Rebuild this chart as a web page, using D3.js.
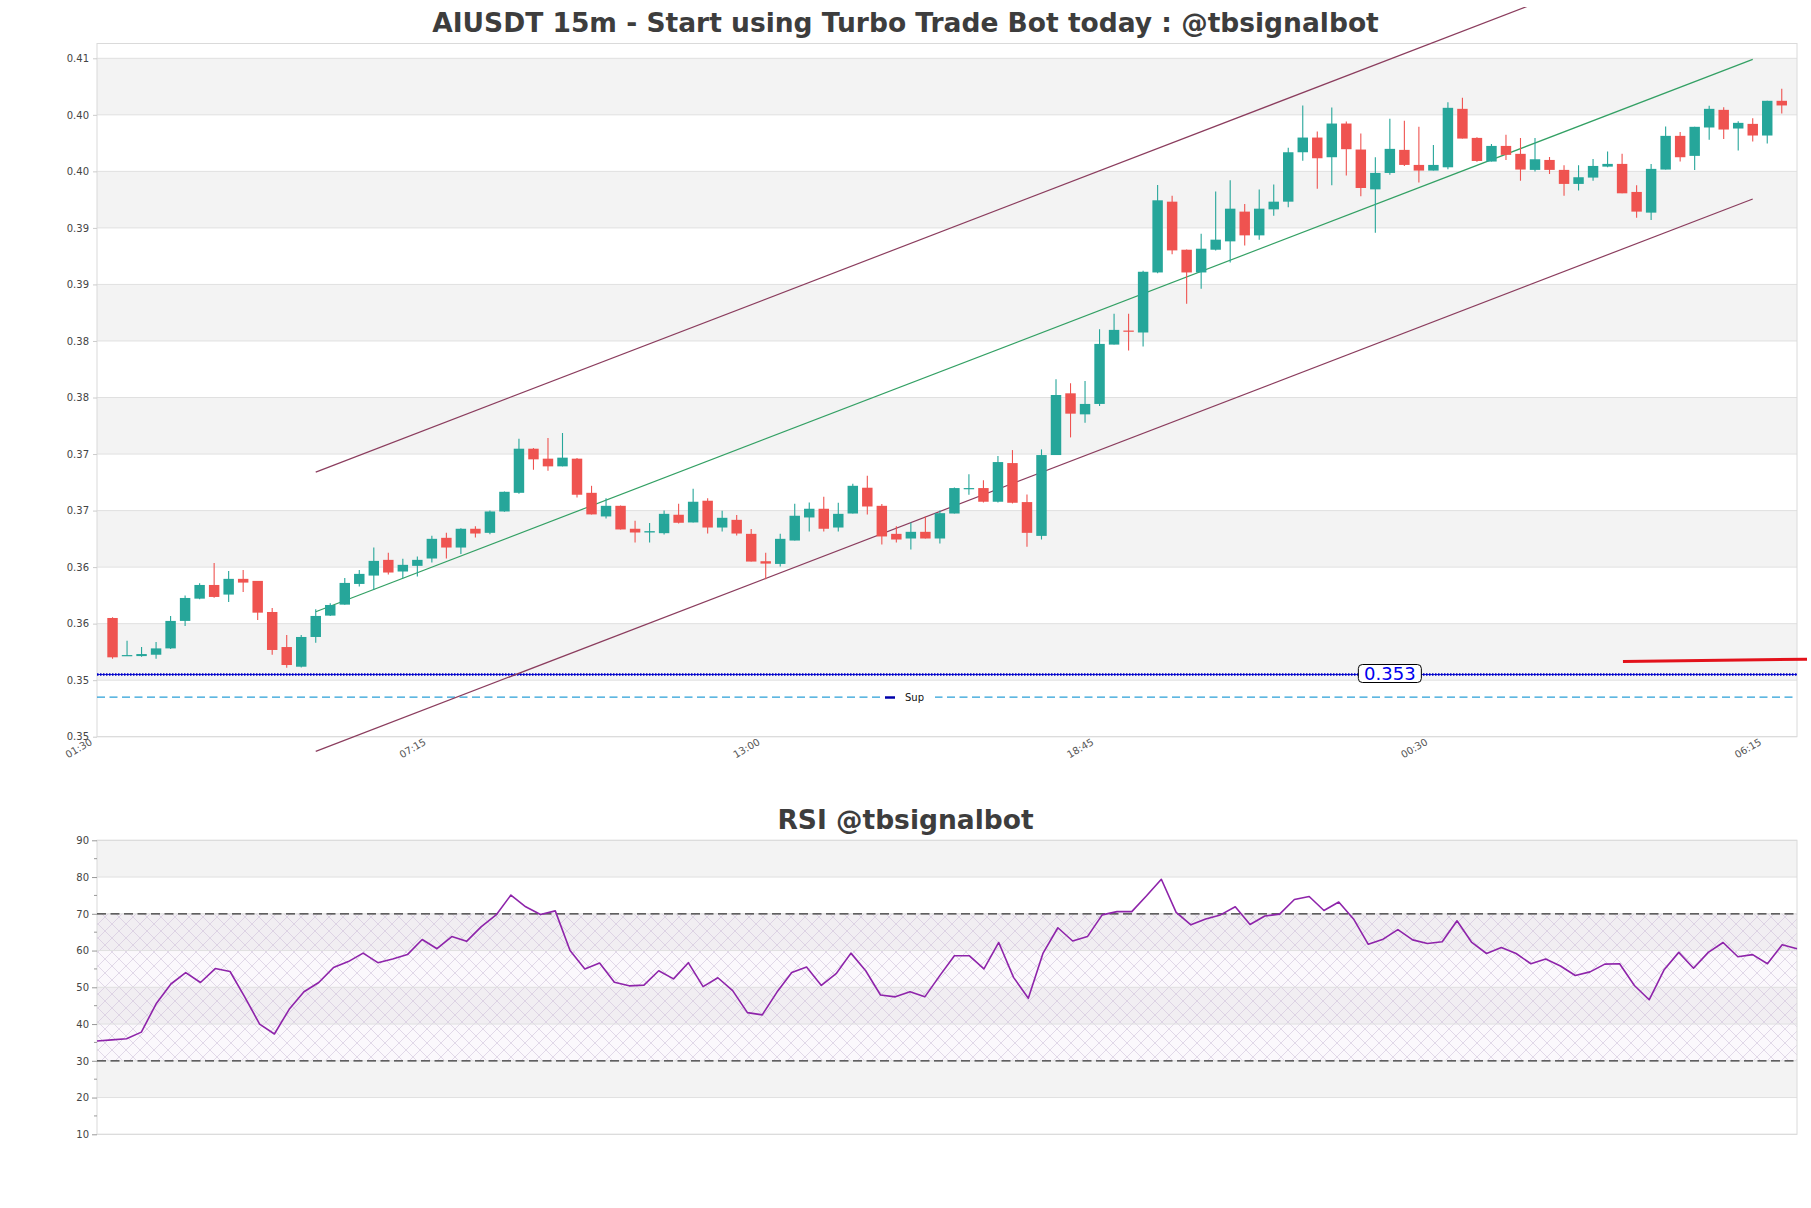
<!DOCTYPE html>
<html><head><meta charset="utf-8">
<script src="https://cdn.jsdelivr.net/npm/d3@7"></script>
<style>body{margin:0;background:#fff}svg{display:block}</style>
</head><body><svg id="c" width="1811" height="1208"></svg>
<script>
// ---------- DATA ----------
const opens=[0.35800,0.35468,0.35463,0.35475,0.35531,0.35774,0.35971,0.36092,0.36007,0.36146,0.36128,0.35853,0.35543,0.35369,0.35632,0.35821,0.35918,0.36101,0.36175,0.36314,0.36211,0.36261,0.36326,0.36509,0.36423,0.36589,0.36553,0.36742,0.36907,0.37297,0.37209,0.37141,0.37209,0.36907,0.36698,0.36792,0.36589,0.36556,0.36550,0.36713,0.36645,0.36837,0.36600,0.36668,0.36544,0.36302,0.36278,0.36485,0.36689,0.36766,0.36600,0.36724,0.36952,0.36792,0.36544,0.36503,0.36562,0.36503,0.36724,0.36940,0.36949,0.36828,0.37170,0.36825,0.36526,0.37241,0.37787,0.37601,0.37693,0.38218,0.38342,0.38325,0.38856,0.39482,0.39057,0.38856,0.39057,0.39131,0.39394,0.39184,0.39414,0.39482,0.39919,0.40049,0.39875,0.40173,0.39943,0.39591,0.39736,0.39940,0.39807,0.39757,0.39786,0.40303,0.40046,0.39837,0.39975,0.39905,0.39763,0.39851,0.39763,0.39639,0.39695,0.39792,0.39816,0.39568,0.39385,0.39766,0.40064,0.39887,0.40138,0.40294,0.40129,0.40170,0.40067,0.40374];
const highs=[0.35806,0.35599,0.35543,0.35587,0.35818,0.35998,0.36107,0.36287,0.36216,0.36225,0.36128,0.35889,0.35650,0.35650,0.35877,0.35930,0.36154,0.36225,0.36423,0.36376,0.36323,0.36343,0.36527,0.36553,0.36594,0.36612,0.36751,0.36919,0.37386,0.37303,0.37392,0.37436,0.37215,0.36969,0.36860,0.36795,0.36659,0.36639,0.36751,0.36810,0.36943,0.36860,0.36748,0.36710,0.36586,0.36376,0.36544,0.36810,0.36822,0.36872,0.36819,0.36987,0.37058,0.36807,0.36612,0.36645,0.36698,0.36750,0.36955,0.37072,0.37019,0.37232,0.37285,0.36893,0.37291,0.37911,0.37876,0.37896,0.38354,0.38490,0.38490,0.38870,0.39630,0.39535,0.39060,0.39199,0.39571,0.39671,0.39462,0.39589,0.39633,0.39958,0.40333,0.40102,0.40315,0.40191,0.40085,0.39875,0.40215,0.40197,0.40144,0.39984,0.40362,0.40401,0.40052,0.39993,0.40073,0.40045,0.40045,0.39878,0.39804,0.39804,0.39860,0.39925,0.39905,0.39627,0.39816,0.40147,0.40099,0.40144,0.40330,0.40318,0.40194,0.40220,0.40374,0.40480];
const lows=[0.35440,0.35463,0.35457,0.35440,0.35525,0.35729,0.35965,0.35980,0.35942,0.36030,0.35782,0.35475,0.35360,0.35363,0.35582,0.35818,0.35918,0.36078,0.36048,0.36184,0.36151,0.36166,0.36290,0.36326,0.36365,0.36512,0.36541,0.36739,0.36899,0.37111,0.37102,0.37141,0.36866,0.36716,0.36680,0.36583,0.36467,0.36467,0.36538,0.36636,0.36645,0.36547,0.36565,0.36529,0.36299,0.36143,0.36255,0.36485,0.36565,0.36565,0.36565,0.36724,0.36716,0.36450,0.36467,0.36405,0.36503,0.36459,0.36724,0.36890,0.36822,0.36822,0.36813,0.36429,0.36494,0.37241,0.37397,0.37527,0.37675,0.38218,0.38165,0.38201,0.38850,0.39016,0.38579,0.38711,0.39051,0.38945,0.39095,0.39146,0.39358,0.39432,0.39845,0.39597,0.39627,0.39713,0.39529,0.39208,0.39721,0.39798,0.39651,0.39757,0.39769,0.40040,0.39834,0.39837,0.39851,0.39668,0.39748,0.39727,0.39535,0.39580,0.39668,0.39786,0.39556,0.39340,0.39320,0.39766,0.39837,0.39763,0.40029,0.40037,0.39934,0.40014,0.39996,0.40262];
const closes=[0.35452,0.35472,0.35481,0.35531,0.35774,0.35977,0.36092,0.35986,0.36146,0.36113,0.35847,0.35517,0.35384,0.35632,0.35818,0.35915,0.36110,0.36190,0.36305,0.36202,0.36270,0.36314,0.36500,0.36423,0.36589,0.36547,0.36742,0.36916,0.37297,0.37203,0.37141,0.37218,0.36890,0.36716,0.36792,0.36583,0.36556,0.36568,0.36721,0.36642,0.36828,0.36600,0.36686,0.36547,0.36299,0.36281,0.36500,0.36704,0.36766,0.36589,0.36721,0.36969,0.36786,0.36521,0.36494,0.36562,0.36503,0.36727,0.36949,0.36949,0.36828,0.37179,0.36819,0.36553,0.37241,0.37772,0.37607,0.37693,0.38224,0.38348,0.38336,0.38862,0.39494,0.39051,0.38856,0.39066,0.39146,0.39420,0.39184,0.39420,0.39482,0.39919,0.40049,0.39866,0.40173,0.39946,0.39603,0.39736,0.39949,0.39807,0.39757,0.39807,0.40312,0.40040,0.39842,0.39975,0.39896,0.39766,0.39857,0.39763,0.39639,0.39698,0.39798,0.39816,0.39556,0.39394,0.39772,0.40064,0.39875,0.40144,0.40303,0.40120,0.40179,0.40067,0.40374,0.40333];
const rsiValues=[35.4,35.7,36.0,37.8,45.5,50.9,54.0,51.3,55.1,54.3,47.3,40.0,37.3,44.0,48.8,51.3,55.4,57.0,59.3,56.7,57.7,58.9,63.0,60.5,63.8,62.5,66.5,69.7,75.1,71.9,69.8,70.8,60.0,55.0,56.6,51.4,50.4,50.6,54.5,52.3,56.7,50.2,52.6,49.1,43.1,42.5,48.7,54.0,55.5,50.5,53.7,59.3,54.5,47.9,47.4,48.8,47.4,53.1,58.6,58.6,55.0,62.2,52.7,47.0,59.3,66.2,62.6,63.8,69.7,70.6,70.6,74.9,79.4,70.4,67.0,68.6,69.7,71.9,67.1,69.4,69.9,73.9,74.7,70.9,73.2,68.6,61.7,63.1,65.7,62.9,61.9,62.4,68.1,62.2,59.2,60.8,59.2,56.4,57.7,55.8,53.2,54.2,56.3,56.4,50.5,46.6,54.7,59.5,55.2,59.5,62.2,58.3,58.9,56.4,61.6,60.5];
const xTickIndex=[-1,22,45,68,91,114];
const xTickLabels=["01:30","07:15","13:00","18:45","00:30","06:15"];
const yTickValues=[0.3475,0.3525,0.3575,0.3625,0.3675,0.3725,0.3775,0.3825,0.3875,0.3925,0.3975,0.4025,0.4075];
const yTickLabels=["0.35","0.35","0.36","0.36","0.37","0.37","0.38","0.38","0.39","0.39","0.40","0.40","0.41"];
const rsiTicks=[10,20,30,40,50,60,70,80,90];
const rsiMinorTicks=[15,25,35,45,55,65,75,85];
const channelIdx=[14,113];
const channelMid=[0.35855,0.40741];
const channelHalfWidth=0.01235;
const supportLevel=0.353, supportLabelIdx=88;
const dashLevel=0.351;
const redIdx=[104.06,116.74], redVals=[0.35415,0.35435];
const titleText="AIUSDT 15m - Start using Turbo Trade Bot today : @tbsignalbot";
const rsiTitle="RSI @tbsignalbot";

// ---------- LAYOUT ----------
const W=1811,H=1208;
const M={l:97,r:1797,t:43.5,b:736.7};
const R={l:97,r:1797,t:840.3,b:1134.3};
const FONT="'DejaVu Sans', sans-serif";
const svg=d3.select("#c");
const defs=svg.append("defs");
defs.append("clipPath").attr("id","mclip").append("rect").attr("x",M.l).attr("y",M.t).attr("width",M.r-M.l).attr("height",M.b-M.t);
defs.append("clipPath").attr("id","topclip").append("rect").attr("x",0).attr("y",7).attr("width",W).attr("height",H);
const pat=defs.append("pattern").attr("id","hatch").attr("width",14).attr("height",14).attr("patternUnits","userSpaceOnUse");
pat.append("path").attr("d","M0,0L14,14M14,0L0,14M-7,7L7,21M7,-7L21,7M-7,7L7,-7M7,21L21,7").attr("stroke","#cdbfd8").attr("stroke-width",0.7).attr("fill","none");

const n=opens.length;
const x=d3.scaleLinear().domain([-1.07,116.05]).range([M.l,M.r]);
const y=d3.scaleLinear().domain([0.3475,0.4075]).range([M.b,58.3]);
const step=x(1)-x(0);

// title
svg.append("text").attr("x",W/2).attr("y",32).attr("text-anchor","middle").attr("font-family",FONT)
  .attr("font-weight","bold").attr("font-size",26.5).attr("fill","#3d3d3d").text(titleText);

// bands
const g=svg.append("g");
g.append("rect").attr("x",M.l).attr("y",M.t).attr("width",M.r-M.l).attr("height",M.b-M.t).attr("fill","#fff");
for(let k=yTickValues.length-1;k>0;k-=2){
  g.append("rect").attr("x",M.l).attr("width",M.r-M.l).attr("y",y(yTickValues[k])).attr("height",y(yTickValues[k-1])-y(yTickValues[k])).attr("fill","#f3f3f3");
}
g.selectAll(".gl").data(yTickValues).join("line").attr("x1",M.l).attr("x2",M.r).attr("y1",d=>y(d)).attr("y2",d=>y(d)).attr("stroke","#e0e0e0").attr("stroke-width",1);
g.append("rect").attr("x",M.l).attr("y",M.t).attr("width",M.r-M.l).attr("height",M.b-M.t).attr("fill","none").attr("stroke","#dadada");

// y axis
const yAx=svg.append("g").attr("transform",`translate(${M.l},0)`).call(d3.axisLeft(y).tickValues(yTickValues).tickFormat((d,i)=>yTickLabels[i]).tickSize(4).tickPadding(4));
yAx.select(".domain").remove();
yAx.selectAll("line").attr("stroke","#cccccc");
yAx.selectAll("text").attr("font-family",FONT).attr("font-size",10).attr("fill","#444");

// x axis labels
const xAx=svg.append("g");
xTickIndex.forEach((t,i)=>{
  xAx.append("text").attr("transform",`translate(${x(t)-5},744) rotate(-30)`).attr("text-anchor","end")
   .attr("font-family",FONT).attr("font-size",10).attr("fill","#555").text(xTickLabels[i]);
});

// support lines
svg.append("line").attr("x1",M.l).attr("x2",M.r).attr("y1",y(dashLevel)).attr("y2",y(dashLevel))
  .attr("stroke","#2ba0d8").attr("stroke-width",1.4).attr("stroke-dasharray","8,4.5");
svg.append("line").attr("x1",M.l).attr("x2",M.r).attr("y1",y(supportLevel)).attr("y2",y(supportLevel))
  .attr("stroke","#1a1ad6").attr("stroke-width",1);
svg.append("line").attr("x1",M.l).attr("x2",M.r).attr("y1",y(supportLevel)).attr("y2",y(supportLevel))
  .attr("stroke","#0000c8").attr("stroke-width",2.6).attr("stroke-dasharray","1.5,1.5");

// legend
const lg=svg.append("g");
lg.append("rect").attr("x",881).attr("y",690).attr("width",54).attr("height",14).attr("fill","#fff");
lg.append("line").attr("x1",885).attr("x2",895).attr("y1",697.5).attr("y2",697.5).attr("stroke","#0000aa").attr("stroke-width",2.5);
lg.append("text").attr("x",905).attr("y",701).attr("font-family",FONT).attr("font-size",10).attr("fill","#111").text("Sup");

// channel
const chg=svg.append("g").attr("clip-path","url(#topclip)");
const chLine=(off,col)=>chg.append("line").attr("x1",x(channelIdx[0])).attr("x2",x(channelIdx[1]))
  .attr("y1",y(channelMid[0]+off)).attr("y2",y(channelMid[1]+off)).attr("stroke",col).attr("stroke-width",1.2);
chLine(channelHalfWidth,"#8b3d5e");
chLine(-channelHalfWidth,"#8b3d5e");
chLine(0,"#33a064");

// candles
const cg=svg.append("g").attr("clip-path","url(#mclip)");
const idx=d3.range(n);
const col=i=>closes[i]>=opens[i]?"#26a69a":"#ef5350";
cg.selectAll(".wick").data(idx).join("line").attr("x1",i=>x(i)).attr("x2",i=>x(i))
  .attr("y1",i=>y(highs[i])).attr("y2",i=>y(lows[i])).attr("stroke",col).attr("stroke-width",1.1);
const bw=step*0.72;
cg.selectAll(".body").data(idx).join("rect").attr("x",i=>x(i)-bw/2).attr("width",bw)
  .attr("y",i=>y(Math.max(opens[i],closes[i])))
  .attr("height",i=>Math.max(1.2,Math.abs(y(opens[i])-y(closes[i])))).attr("fill",col);

// support label
const lx=x(supportLabelIdx);
svg.append("rect").attr("x",lx-31.5).attr("y",664.5).attr("width",63).attr("height",18).attr("rx",4)
  .attr("fill","#fff").attr("stroke","#000").attr("stroke-width",1);
svg.append("text").attr("x",lx).attr("y",680).attr("text-anchor","middle").attr("font-family",FONT)
  .attr("font-size",18).attr("fill","#0000ee").text(supportLevel.toFixed(3));

// red line
svg.append("line").attr("x1",x(redIdx[0])).attr("x2",x(redIdx[1])).attr("y1",y(redVals[0])).attr("y2",y(redVals[1]))
  .attr("stroke","#e3121b").attr("stroke-width",3);

// ---------- RSI ----------
svg.append("text").attr("x",W/2).attr("y",829).attr("text-anchor","middle").attr("font-family",FONT)
  .attr("font-weight","bold").attr("font-size",26.5).attr("fill","#3d3d3d").text(rsiTitle);
const rx=d3.scaleLinear().domain([0,n-1]).range([R.l,R.r]);
const ry=d3.scaleLinear().domain([10,90]).range([R.b,R.t]);
const rg=svg.append("g");
rg.append("rect").attr("x",R.l).attr("y",R.t).attr("width",R.r-R.l).attr("height",R.b-R.t).attr("fill","#fff");
[[80,90],[60,70],[40,50],[20,30]].forEach(b=>{
  rg.append("rect").attr("x",R.l).attr("width",R.r-R.l).attr("y",ry(b[1])).attr("height",ry(b[0])-ry(b[1])).attr("fill","#f3f3f3");
});
rg.append("rect").attr("x",R.l).attr("width",R.r-R.l).attr("y",ry(70)).attr("height",ry(30)-ry(70)).attr("fill","#e8d8f0").attr("opacity",0.18);
rg.append("rect").attr("x",R.l).attr("width",R.r-R.l).attr("y",ry(70)).attr("height",ry(30)-ry(70)).attr("fill","url(#hatch)").attr("opacity",0.8);
rg.selectAll(".rgl").data(rsiTicks).join("line").attr("x1",R.l).attr("x2",R.r).attr("y1",d=>ry(d)).attr("y2",d=>ry(d)).attr("stroke","#e0e0e0");
rg.append("rect").attr("x",R.l).attr("y",R.t).attr("width",R.r-R.l).attr("height",R.b-R.t).attr("fill","none").attr("stroke","#dadada");
[70,30].forEach(v=>rg.append("line").attr("x1",R.l).attr("x2",R.r).attr("y1",ry(v)).attr("y2",ry(v))
  .attr("stroke","#333").attr("stroke-width",1.2).attr("stroke-dasharray","9,4.5"));
const ryAx=svg.append("g").attr("transform",`translate(${R.l},0)`).call(d3.axisLeft(ry).tickValues(rsiTicks).tickSize(5).tickPadding(3).tickFormat(d3.format("d")));
ryAx.select(".domain").remove();
ryAx.selectAll("line").attr("stroke","#999");
ryAx.selectAll("text").attr("font-family",FONT).attr("font-size",10).attr("fill","#444");
svg.append("g").selectAll("line").data(rsiMinorTicks).join("line").attr("x1",R.l-3).attr("x2",R.l).attr("y1",d=>ry(d)).attr("y2",d=>ry(d)).attr("stroke","#999");
svg.append("path").datum(rsiValues).attr("d",d3.line().x((d,i)=>rx(i)).y(d=>ry(d)))
  .attr("fill","none").attr("stroke","#8e24aa").attr("stroke-width",1.6).attr("stroke-linejoin","round");
</script></body></html>
